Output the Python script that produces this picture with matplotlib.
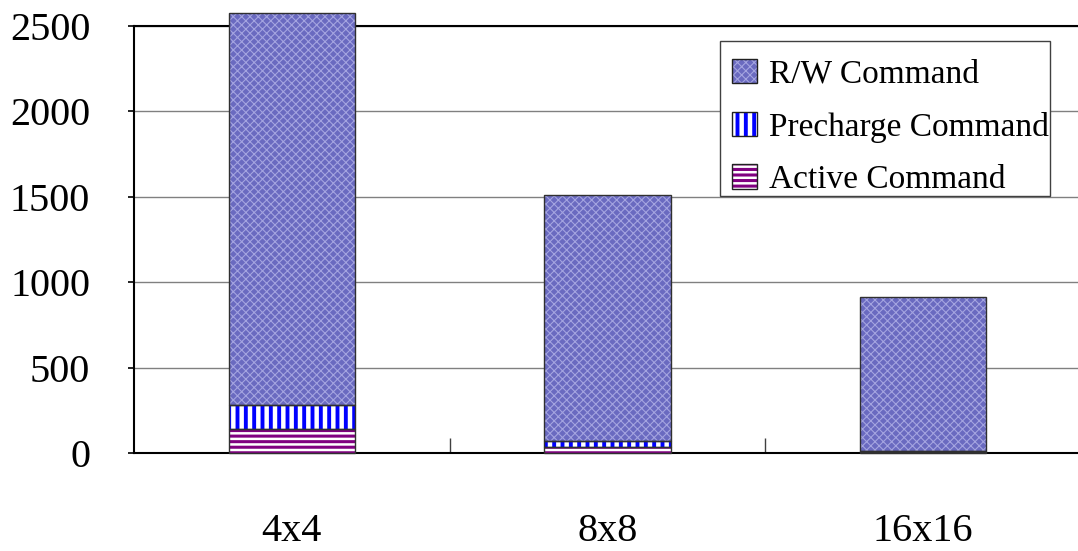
import matplotlib
matplotlib.use("Agg")
import matplotlib as mpl
import matplotlib.pyplot as plt
from matplotlib.patches import Patch, Rectangle
import numpy as np

categories = ["4x4", "8x8", "16x16"]
active_cmd = [140, 35, 5]
precharge_cmd = [140, 35, 5]
rw_cmd = [2296, 1440, 903]
y_ticks = [0, 500, 1000, 1500, 2000, 2500]

plt.rcParams["font.family"] = ["Liberation Serif", "DejaVu Serif"]

fig = plt.figure(figsize=(10.78, 5.51), dpi=100)
ax = fig.add_axes([0.1243, 0.1779, 0.8785, 0.775])

x = np.arange(len(categories))
width = 0.4

# (face colour, hatch, hatch colour, hatch line width)
styles = [
    ("white", "---", "#800080", 2.2),
    ("white", "||", "#0000ff", 2.8),
    ("#6a6ac0", "xxxx", "#a4a4e0", 0.8),
]
series = [active_cmd, precharge_cmd, rw_cmd]
labels = ["Active Command", "Precharge Command", "R/W Command"]
hatch_widths = {hatch: hlw for _, hatch, _, hlw in styles}

bottom = np.zeros(len(categories))
for vals, (fc, hatch, hc, hlw) in zip(series, styles):
    vals = np.array(vals, dtype=float)
    with mpl.rc_context({"hatch.linewidth": hlw}):
        ax.bar(x, vals, width, bottom=bottom, color=fc, hatch=hatch,
               edgecolor=hc, linewidth=0, clip_on=False, zorder=3)
    ax.bar(x, vals, width, bottom=bottom, fill=False,
           edgecolor="#303030", linewidth=1.0, clip_on=False, zorder=4)
    bottom += vals

ax.set_xlim(-0.5, 2.5)
ax.set_ylim(0, 2500)
ax.set_yticks(y_ticks)
ax.set_yticklabels([str(v) for v in y_ticks])
ax.yaxis.grid(True, color="#808080", linewidth=1.0, zorder=0)
ax.set_axisbelow(True)

ax.set_xticks(x)
ax.set_xticklabels(categories)
ax.set_xticks([0.5, 1.5], minor=True)
ax.tick_params(axis="x", which="major", length=0, pad=43, labelsize=29)
ax.tick_params(axis="x", which="minor", direction="in", length=11,
               width=1, color="#404040")
ax.tick_params(axis="y", which="major", direction="out", length=4,
               width=1.2, pad=27.5, labelsize=29)

for side in ["left", "bottom", "top"]:
    ax.spines[side].set_color("black")
    ax.spines[side].set_linewidth(1.5)
ax.spines["right"].set_visible(False)

# legend box drawn separately so its padding can be set freely
ax.add_patch(Rectangle((0.6188, 0.6019), 0.3485, 0.363,
                       transform=ax.transAxes, facecolor="white",
                       edgecolor="#404040", linewidth=1.0, zorder=5,
                       clip_on=False))

handles = []
for fc, hatch, hc, hlw in styles[::-1]:
    swatch = Patch(facecolor=fc, hatch=hatch, edgecolor=hc, linewidth=0)
    outline = Patch(facecolor="none", edgecolor="#202020", linewidth=1.0)
    handles.append((swatch, outline))

leg = ax.legend(handles, labels[::-1], loc="upper left",
                bbox_to_anchor=(0.6315, 0.9227), fontsize=24,
                frameon=False, handlelength=0.75, handleheight=0.75,
                handletextpad=0.35, labelspacing=0.655, borderpad=0,
                borderaxespad=0)
leg.set_zorder(6)

# give the legend swatches the same hatch weights as the bars
for r in leg.findobj(Rectangle):
    h = r.get_hatch()
    if h in hatch_widths and hasattr(r, "set_hatch_linewidth"):
        r.set_hatch_linewidth(hatch_widths[h])
    elif h in hatch_widths:
        r._hatch_linewidth = hatch_widths[h]

fig.savefig("out.png", dpi=100)
